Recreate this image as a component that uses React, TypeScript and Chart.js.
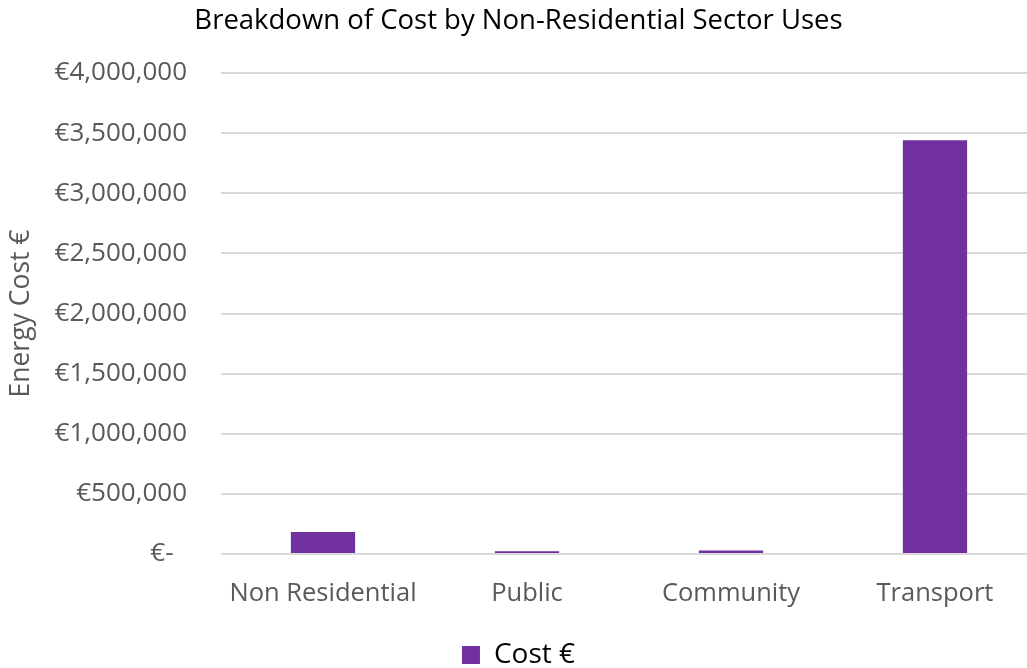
import React, { useEffect, useRef } from "react";
import { Chart, registerables } from "chart.js";

Chart.register(...registerables);

const categories = ["Non Residential", "Public", "Community", "Transport"];
const costValues = [183000, 22000, 30000, 3441000];
const seriesLabel = "Cost €";
const chartTitle = "Breakdown of Cost by Non-Residential Sector Uses";
const yAxisTitle = "Energy Cost €";

const FONT = "'Open Sans', sans-serif";

// Reference plot area runs past the right edge of the picture
const extendPlot = {
  id: "extendPlot",
  afterLayout(chart: any) {
    const x = chart.scales.x;
    x.right = x.left + 816;
    x.width = 816;
    x.configure();
  },
};

export default function App() {
  const ref = useRef<HTMLCanvasElement>(null);
  useEffect(() => {
    document.body.style.margin = "0";
    const ctx = ref.current!;
    const chart = new Chart(ctx, {
      type: "bar",
      data: {
        labels: categories,
        datasets: [
          {
            label: seriesLabel,
            data: costValues,
            backgroundColor: "#7030A0",
            borderWidth: 0,
            barPercentage: 0.315,
            categoryPercentage: 1,
          },
        ],
      },
      plugins: [extendPlot],
      options: {
        responsive: false,
        animation: false,
        layout: { padding: { left: 0, right: -10, top: 5, bottom: -11 } },
        plugins: {
          title: {
            display: true,
            text: chartTitle,
            color: "#000000",
            font: { family: FONT, size: 27.5, weight: "normal" },
            padding: { top: 0, bottom: 35 },
          },
          legend: {
            position: "bottom",
            labels: {
              color: "#000000",
              font: { family: FONT, size: 28, lineHeight: 1.0 },
              boxWidth: 18,
              boxHeight: 18,
              padding: 0,
            },
          },
          tooltip: { enabled: false },
        },
        scales: {
          x: {
            grid: { display: false, drawTicks: false },
            border: { display: false },
            ticks: {
              color: "#595959",
              font: { family: FONT, size: 25.5 },
              padding: 24,
            },
            afterFit: (s: any) => {
              s.height = 87;
            },
          },
          y: {
            min: 0,
            max: 4000000,
            grid: { color: "#d9d9d9", lineWidth: 2, drawTicks: false },
            border: { display: false },
            ticks: {
              stepSize: 500000,
              color: "#595959",
              font: { family: FONT, size: 26 },
              padding: 34,
              callback: (v: any) =>
                Number(v) === 0 ? "€-  " : "€" + Number(v).toLocaleString("en-US"),
            },
            title: {
              display: true,
              text: yAxisTitle,
              color: "#595959",
              font: { family: FONT, size: 26.5 },
              padding: { top: 6, bottom: 0 },
            },
            afterFit: (s: any) => {
              s.width = 221;
            },
          },
        },
      },
    });
    return () => chart.destroy();
  }, []);
  return <canvas ref={ref} width={1027} height={668} />;
}
